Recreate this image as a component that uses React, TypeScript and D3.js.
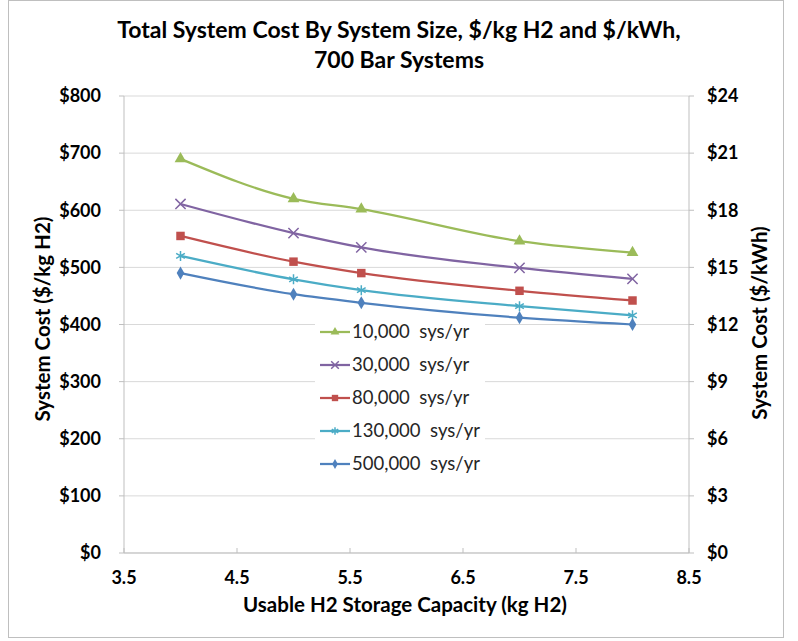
import * as d3 from "d3";
import React from "react";

// usable H2 capacity (kg) for each system
const capacities = [4, 5, 5.6, 7, 8];

const seriesNames = [
  "10,000  sys/yr",
  "30,000  sys/yr",
  "80,000  sys/yr",
  "130,000  sys/yr",
  "500,000  sys/yr",
];
const cost10k = [690, 620, 602, 546, 526];
const cost30k = [611, 560, 535, 499, 480];
const cost80k = [555, 510, 490, 459, 442];
const cost130k = [520, 479, 460, 432, 416];
const cost500k = [490, 453, 438, 412, 400];

const xTicks = [3.5, 4.5, 5.5, 6.5, 7.5, 8.5];
const leftTicks = [0, 100, 200, 300, 400, 500, 600, 700, 800];
const rightTicks = [0, 3, 6, 9, 12, 15, 18, 21, 24];

const colors = ["#9bbb59", "#8064a2", "#c0504d", "#4bacc6", "#4f81bd"];
const markers = ["triangle", "times", "square", "asterisk", "diamond"];

const FONT = "Lato, 'Noto Sans', sans-serif";

function Marker({ kind, x, y, color, scale = 1 }: { kind: string; x: number; y: number; color: string; scale?: number }) {
  let sym: d3.SymbolType = d3.symbolTriangle;
  let size = 60;
  let stroke = false;
  if (kind === "square") { sym = d3.symbolSquare; size = 72; }
  if (kind === "diamond") { sym = d3.symbolDiamond; size = 50; }
  if (kind === "times") { sym = d3.symbolTimes; size = 70; stroke = true; }
  if (kind === "asterisk") { sym = d3.symbolAsterisk; size = 70; stroke = true; }
  const d = d3.symbol(sym, size * scale * scale)() || "";
  return (
    <path
      d={d}
      transform={`translate(${x},${y})`}
      fill={stroke ? "none" : color}
      stroke={color}
      strokeWidth={stroke ? 1.5 : 0}
    />
  );
}

export default function App() {
  const series = [cost10k, cost30k, cost80k, cost130k, cost500k];

  const margin = { left: 124, right: 689, top: 96, bottom: 553 };
  const x = d3.scaleLinear().domain([3.5, 8.5]).range([margin.left, margin.right]);
  const y = d3.scaleLinear().domain([0, 800]).range([margin.bottom, margin.top]);
  const y2 = d3.scaleLinear().domain([0, 24]).range([margin.bottom, margin.top]);

  const line = d3
    .line<number>()
    .x((_, i) => x(capacities[i]))
    .y((d) => y(d))
    .curve(d3.curveMonotoneX);

  const legend = { x: 315, y: 318, w: 170, h: 172 };

  return (
    <svg width={798} height={641} style={{ position: "absolute", left: 0, top: 0, background: "#fff" }} fontFamily={FONT}>
      <rect x={8.5} y={0.5} width={775} height={637} fill="#fff" stroke="#bfbfbf" />

      {/* タイトル */}
      <text x={399} y={38} textAnchor="middle" fontSize={23} fontWeight="bold" fill="#000">
        Total System Cost By System Size, $/kg H2 and $/kWh,
      </text>
      <text x={399} y={68} textAnchor="middle" fontSize={23} fontWeight="bold" fill="#000">
        700 Bar Systems
      </text>

      {/* グリッド */}
      {leftTicks.map((t) => (
        <line key={t} x1={margin.left} x2={margin.right} y1={y(t)} y2={y(t)} stroke="#d9d9d9" strokeWidth={1} />
      ))}
      {/* 左軸 */}
      <line x1={margin.left} x2={margin.left} y1={margin.top} y2={margin.bottom} stroke="#bfbfbf" />
      {leftTicks.map((t) => (
        <g key={t}>
          <line x1={margin.left - 5} x2={margin.left} y1={y(t)} y2={y(t)} stroke="#bfbfbf" />
          <text x={101} y={y(t)} dy="0.35em" textAnchor="end" fontSize={18} fontWeight="bold">
            {d3.format("$,")(t)}
          </text>
        </g>
      ))}
      {/* 右軸 */}
      <line x1={margin.right} x2={margin.right} y1={margin.top} y2={margin.bottom} stroke="#bfbfbf" />
      {rightTicks.map((t) => (
        <g key={t}>
          <line x1={margin.right} x2={margin.right + 5} y1={y2(t)} y2={y2(t)} stroke="#bfbfbf" />
          <text x={707} y={y2(t)} dy="0.35em" textAnchor="start" fontSize={18} fontWeight="bold">
            {"$" + t}
          </text>
        </g>
      ))}
      {/* X軸 */}
      <line x1={margin.left} x2={margin.right} y1={margin.bottom} y2={margin.bottom} stroke="#bfbfbf" />
      {xTicks.map((t) => (
        <g key={t}>
          <line x1={x(t)} x2={x(t)} y1={margin.bottom - 5} y2={margin.bottom} stroke="#bfbfbf" />
          <text x={x(t)} y={578} dy="0.35em" textAnchor="middle" fontSize={18} fontWeight="bold">
            {t.toFixed(1)}
          </text>
        </g>
      ))}

      {/* 軸タイトル */}
      <text x={405} y={612} textAnchor="middle" fontSize={20.5} fontWeight="bold">
        Usable H2 Storage Capacity (kg H2)
      </text>
      <text transform="translate(50,319) rotate(-90)" textAnchor="middle" fontSize={20.5} fontWeight="bold">
        System Cost ($/kg H2)
      </text>
      <text transform="translate(767,323) rotate(-90)" textAnchor="middle" fontSize={20.5} fontWeight="bold">
        System Cost ($/kWh)
      </text>

      {/* 系列 */}
      {series.map((s, si) => (
        <g key={si}>
          <path d={line(s) || ""} fill="none" stroke={colors[si]} strokeWidth={2.25} />
          {s.map((v, i) => (
            <Marker key={i} kind={markers[si]} x={x(capacities[i])} y={y(v)} color={colors[si]} />
          ))}
        </g>
      ))}

      {/* 凡例 */}
      <rect x={legend.x} y={legend.y} width={legend.w} height={legend.h} fill="#fff" />
      {seriesNames.map((name, i) => {
        const ly = 332 + i * 33;
        return (
          <g key={name}>
            <line x1={320} x2={350} y1={ly} y2={ly} stroke={colors[i]} strokeWidth={2.25} />
            <Marker kind={markers[i]} x={335} y={ly} color={colors[i]} scale={0.75} />
            <text x={352} y={ly} dy="0.35em" fontSize={18.5} style={{ whiteSpace: "pre" }} fill="#262626">
              {name}
            </text>
          </g>
        );
      })}
    </svg>
  );
}
